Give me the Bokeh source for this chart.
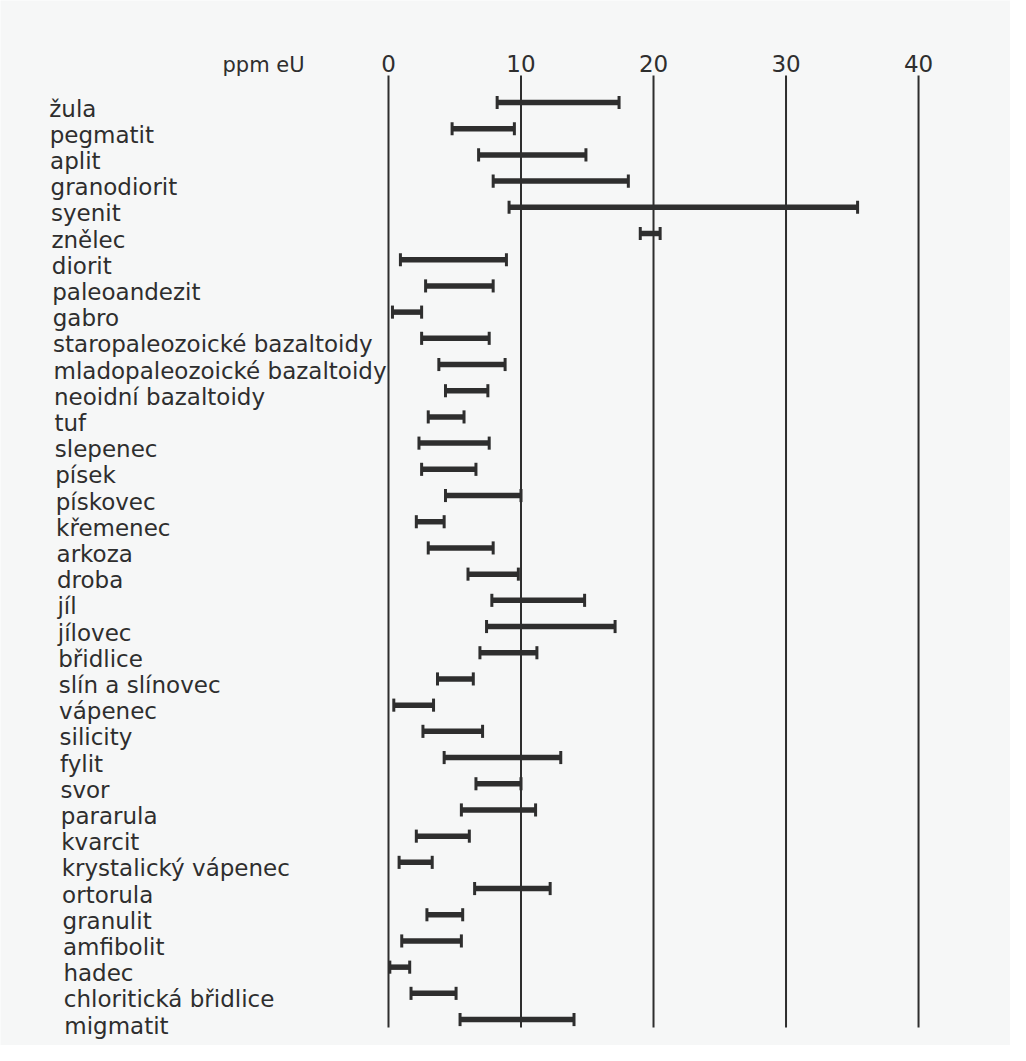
import numpy as np
from bokeh.plotting import figure
from bokeh.models import Range1d, ColumnDataSource
from bokeh.core.properties import value
from bokeh.embed import file_html
from bokeh.resources import INLINE

# ---- data ----
rocks = ["žula", "pegmatit", "aplit", "granodiorit", "syenit", "znělec", "diorit",
         "paleoandezit", "gabro", "staropaleozoické bazaltoidy",
         "mladopaleozoické bazaltoidy", "neoidní bazaltoidy", "tuf", "slepenec",
         "písek", "pískovec", "křemenec", "arkoza", "droba", "jíl", "jílovec",
         "břidlice", "slín a slínovec", "vápenec", "silicity", "fylit", "svor",
         "pararula", "kvarcit", "krystalický vápenec", "ortorula", "granulit",
         "amfibolit", "hadec", "chloritická břidlice", "migmatit"]
low = [8.2, 4.8, 6.8, 7.9, 9.1, 19.0, 0.9, 2.8, 0.3, 2.5, 3.8, 4.3, 3.0, 2.3, 2.5,
       4.3, 2.1, 3.0, 6.0, 7.8, 7.4, 6.9, 3.7, 0.4, 2.6, 4.2, 6.6, 5.5, 2.1, 0.8,
       6.5, 2.9, 1.0, 0.1, 1.7, 5.4]
high = [17.4, 9.5, 14.9, 18.1, 35.4, 20.5, 8.9, 7.9, 2.5, 7.6, 8.8, 7.5, 5.7, 7.6,
        6.6, 10.0, 4.2, 7.9, 9.8, 14.8, 17.1, 11.2, 6.4, 3.4, 7.1, 13.0, 10.0, 11.1,
        6.1, 3.3, 12.2, 5.6, 5.5, 1.6, 5.1, 14.0]
ticks = [0, 10, 20, 30, 40]
tick_labels = ["0", "10", "20", "30", "40"]
unit_label = "ppm eU"

INK = "#2e2e2e"
BG = "#f6f7f7"
FONT = value("DejaVu Sans")

n = len(rocks)
idx = np.arange(n)

p = figure(width=1010, height=1045, output_backend="svg", toolbar_location=None,
           x_range=Range1d(-29.28, 46.94), y_range=Range1d(35.99, -3.893),
           min_border=0, x_axis_location=None, y_axis_location=None)
p.background_fill_color = BG
p.border_fill_color = BG
p.outline_line_color = None
p.grid.visible = False

# vertical reference lines
p.segment(x0=ticks, y0=[-1.03] * len(ticks), x1=ticks, y1=[35.3] * len(ticks),
          line_color=INK, line_width=2)

# tick labels and unit
p.text(x=ticks, y=[-1.49] * len(ticks), text=tick_labels, text_font=FONT,
       text_font_size="23px", text_color=INK, text_align="center",
       text_baseline="alphabetic")
p.text(x=[-9.43], y=[-1.45], text=[unit_label], text_font=FONT,
       text_font_size="21px", text_color=INK, text_align="center",
       text_baseline="alphabetic")

# range bars
src = ColumnDataSource(dict(y=idx, lo=low, hi=high,
                            ytop=idx - 0.25, ybot=idx + 0.25))
p.segment(x0="lo", y0="y", x1="hi", y1="y", source=src, line_color=INK,
          line_width=5.5)
p.segment(x0="lo", y0="ytop", x1="lo", y1="ybot", source=src,
          line_color=INK, line_width=3)
p.segment(x0="hi", y0="ytop", x1="hi", y1="ybot", source=src,
          line_color=INK, line_width=3)

# rock labels
lab = ColumnDataSource(dict(x=[-25.6] * n, y=idx + 0.23, t=rocks,
                            xo=list(np.linspace(0, 15, n))))
p.text(x="x", y="y", text="t", x_offset="xo", source=lab, text_font=FONT,
       text_font_size="23px", text_color=INK, text_align="left",
       text_baseline="alphabetic")

open("out.html", "w").write(file_html(p, INLINE))
